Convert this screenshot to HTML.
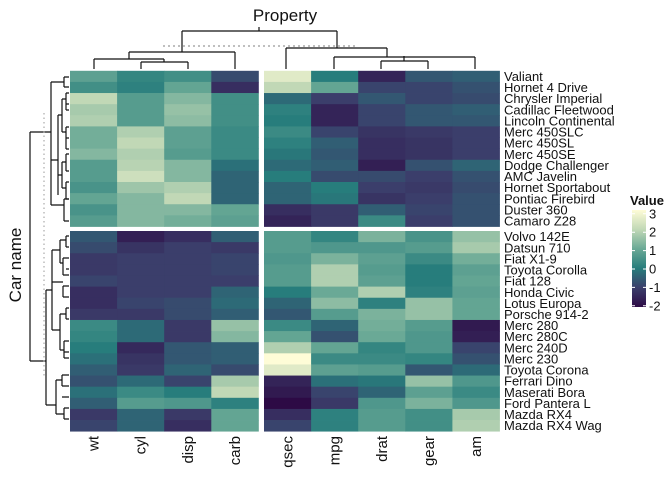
<!DOCTYPE html>
<html><head><meta charset="utf-8"><style>
html,body{margin:0;padding:0;background:#fff}
svg{display:block;font-family:"Liberation Sans",sans-serif}
</style></head><body>
<svg id="chart" width="672" height="480" viewBox="0 0 672 480" xmlns="http://www.w3.org/2000/svg">
<text x="285" y="21" font-size="17" text-anchor="middle" fill="#111">Property</text>
<text transform="translate(21,265) rotate(-90)" font-size="17" text-anchor="middle" fill="#111">Car name</text>
<g id="coldendro" stroke="#111" stroke-width="1.2" fill="none">
<path d="M259 27V31M182 31H337M182 31V52M129 52H235M129 52V59M94 59H164M94 59V69M164 59V62M141 62H188M141 62V69M188 62V69M235 52V69M337 31V48M286 48H387M286 48V69M387 48V57M334 57H475M334 57V69M475 57V69M404 57V56M381 61H428M381 61V69M428 61V69M404 56V61"/>
<path d="M163 46H356" stroke="#999" stroke-dasharray="2,3"/>
</g>
<g id="rowdendro" stroke="#111" stroke-width="1.2" fill="none">
<path d="M30 132V361M30 132H51M30 361H46"/>
<path d="M51 82V205M51 82H64M64 77V87M64 77H69M64 87H69"/>
<path d="M51 160H58M58 115V195M58 115H62M62 99V132M62 99H66M66 93V110M66 93H69M66 110H69M66 104H69M62 132H66M66 127V149M66 127H69M66 149H69M66 138H69"/>
<path d="M58 175H62M62 162V188M62 162H66M66 154V171M66 154H69M66 171H69M62 188H66M66 182V199M66 182H69M66 199H69"/>
<path d="M51 205H64M64 199V221M64 199H69M64 221H69"/>
<path d="M46 290V405M46 290H52M52 250V330M52 250H60M60 240V263M60 240H66M66 236V247M66 236H69M66 247H69M60 263H63M63 258V275M63 258H69M63 275H69M66 269H69M52 282H63M63 286V297M63 286H69M63 297H69"/>
<path d="M52 330H60M60 314V350M60 314H66M66 308V319M66 308H69M66 319H69M60 350H64M64 341V358M64 341H69M64 358H69M64 352H69"/>
<path d="M46 405H56M56 380V414M56 380H62M62 375V386M62 375H69M62 386H69M62 397H69M56 414H64M64 408V419M64 408H69M64 419H69"/>
<path d="M44 113V377" stroke="#aaa" stroke-dasharray="1.5,3"/>
</g>
<g id="cells"></g>
<g id="rowlabels"></g>
<g id="collabels"></g>
<g id="legend">
<text x="630" y="205" font-size="13" font-weight="bold" fill="#111">Value</text>
<defs><linearGradient id="lg" x1="0" y1="1" x2="0" y2="0">
<stop offset="0" stop-color="#2d0a45"/><stop offset="0.2" stop-color="#3b3e6b"/><stop offset="0.4" stop-color="#277d7c"/><stop offset="0.6" stop-color="#6aa996"/><stop offset="0.8" stop-color="#c1d8b6"/><stop offset="1" stop-color="#fefcd7"/></linearGradient></defs>
<rect x="632" y="210" width="14" height="97" fill="url(#lg)"/>
<g id="legticks"></g>
</g>
</svg>
<script>
const cols = ["wt","cyl","disp","carb","qsec","mpg","drat","gear","am"];
const rows = ["Valiant","Hornet 4 Drive","Chrysler Imperial","Cadillac Fleetwood","Lincoln Continental","Merc 450SLC","Merc 450SL","Merc 450SE","Dodge Challenger","AMC Javelin","Hornet Sportabout","Pontiac Firebird","Duster 360","Camaro Z28","Volvo 142E","Datsun 710","Fiat X1-9","Toyota Corolla","Fiat 128","Honda Civic","Lotus Europa","Porsche 914-2","Merc 280","Merc 280C","Merc 240D","Merc 230","Toyota Corona","Ferrari Dino","Maserati Bora","Ford Pantera L","Mazda RX4","Mazda RX4 Wag"];
const values = [
[0.8,0.2,0.4,-0.8,2.5,0.0,-1.5,-0.6,-0.5],
[0.4,0.1,0.9,-1.3,2.0,0.9,-0.9,-0.9,-0.7],
[2.0,0.7,1.3,0.4,-0.3,-1.0,-0.6,-0.9,-0.8],
[1.7,0.7,1.5,0.4,0.1,-1.5,-0.9,-0.6,-0.5],
[1.8,0.7,1.4,0.4,0.0,-1.5,-0.9,-0.6,-0.6],
[1.1,1.8,0.8,0.3,0.3,-0.9,-1.2,-1.1,-1.0],
[1.1,2.0,0.8,0.3,0.1,-0.5,-1.3,-1.2,-1.0],
[1.3,1.8,0.7,0.3,-0.1,-0.6,-1.3,-1.2,-1.0],
[0.7,1.9,1.3,-0.2,-0.3,-0.5,-1.6,-0.7,-0.4],
[0.7,2.2,1.3,-0.4,0.0,-0.8,-0.8,-1.0,-0.7],
[0.5,1.6,1.8,-0.4,-0.4,0.0,-1.0,-1.1,-0.8],
[0.9,1.3,2.0,-0.4,-0.4,-0.1,-1.2,-1.0,-0.7],
[0.5,1.3,1.3,0.9,-1.3,-1.1,-0.5,-0.9,-0.7],
[0.7,1.3,1.1,0.8,-1.5,-1.1,0.3,-1.0,-0.7],
[-0.6,-1.6,-1.3,-0.5,0.7,0.2,1.2,0.5,1.5],
[-0.8,-1.2,-1.0,-1.1,0.7,0.6,0.6,0.7,1.7],
[-1.1,-1.0,-1.0,-0.9,0.6,1.2,0.8,0.3,1.1],
[-1.1,-1.0,-1.0,-0.9,0.7,1.8,0.7,0.0,0.8],
[-0.9,-1.0,-1.0,-1.0,0.7,1.8,0.8,0.0,0.9],
[-1.3,-1.0,-1.0,-0.4,0.0,1.0,1.8,0.1,0.8],
[-1.3,-0.9,-0.8,-0.3,-0.4,1.4,0.1,1.5,0.9],
[-1.1,-1.1,-0.8,-0.5,-0.6,0.7,1.2,1.5,0.9],
[0.3,-0.3,-1.1,1.5,0.3,-0.4,1.1,0.7,-1.7],
[0.2,-0.3,-1.1,1.3,0.9,-0.7,1.0,0.6,-1.6],
[0.0,-1.4,-0.6,-0.5,1.8,0.9,0.2,0.6,-0.9],
[-0.2,-1.2,-0.6,-0.5,3.0,0.3,0.3,0.2,-0.7],
[-0.5,-1.1,-0.4,-0.8,2.5,0.8,0.7,-0.6,-0.3],
[-0.7,-0.3,-0.9,1.7,-1.5,-0.2,-0.1,1.5,0.6],
[-0.2,0.3,0.0,2.0,-1.7,-0.9,-0.4,0.8,0.3],
[-0.5,0.7,0.6,0.1,-2.1,-1.1,0.6,1.2,0.6],
[-1.1,-0.4,-1.1,0.9,-1.3,0.1,0.7,0.4,1.7],
[-0.9,-0.4,-1.3,0.9,-0.9,0.1,0.7,0.4,1.8]];
const legendTicks = [3,2,1,0,-1,-2];

const NS="http://www.w3.org/2000/svg";
const stops=[[-2,[45,10,69]],[-1,[59,62,107]],[0,[39,125,124]],[1,[106,169,150]],[2,[193,216,182]],[3,[254,252,215]]];
function color(v){
  if(v<=stops[0][0]) return "rgb("+stops[0][1].join(",")+")";
  for(let i=0;i<stops.length-1;i++){const a=stops[i],b=stops[i+1];
    if(v<=b[0]){const t=(v-a[0])/(b[0]-a[0]);return "rgb("+a[1].map((c,k)=>Math.round(c+(b[1][k]-c)*t)).join(",")+")";}}
  return "rgb("+stops[stops.length-1][1].join(",")+")";
}
const cw=47.1, rh=11.12;
function xCol(j){return j<4 ? 70+j*cw : 264+(j-4)*cw;}
function yRow(i){return i<14 ? 70.8+i*rh : 231+(i-14)*rh;}
function yLeg(v){return 269-v*18.4;}
const cells=document.getElementById("cells");
values.forEach((r,i)=>r.forEach((v,j)=>{
  const e=document.createElementNS(NS,"rect");
  
  
  e.setAttribute("x",xCol(j));e.setAttribute("y",yRow(i));
  e.setAttribute("width",cw+0.4);e.setAttribute("height",rh+0.4);
  e.setAttribute("fill",color(v));cells.appendChild(e);
}));
const rl=document.getElementById("rowlabels");
rows.forEach((n,i)=>{
  const t=document.createElementNS(NS,"text");
  
  
  t.setAttribute("x",504);t.setAttribute("y",yRow(i)+rh/2+4.6);
  t.setAttribute("font-size","13");t.setAttribute("fill","#111");
  t.textContent=n;rl.appendChild(t);
});
const cl=document.getElementById("collabels");
cols.forEach((n,j)=>{
  const t=document.createElementNS(NS,"text");
  
  
  const cx=xCol(j)+cw/2+5;
  t.setAttribute("transform","translate("+cx+",436) rotate(-90)");
  t.setAttribute("text-anchor","end");t.setAttribute("font-size","15");t.setAttribute("fill","#111");
  t.textContent=n;cl.appendChild(t);
});
const lt=document.getElementById("legticks");
legendTicks.forEach(v=>{
  const l=document.createElementNS(NS,"line");
  
  
  l.setAttribute("x1",632);l.setAttribute("x2",646);l.setAttribute("y1",yLeg(v));l.setAttribute("y2",yLeg(v));
  l.setAttribute("stroke","#fff");l.setAttribute("stroke-dasharray","3,8");lt.appendChild(l);
  const t=document.createElementNS(NS,"text");
  
  
  t.setAttribute("x",649);t.setAttribute("y",yLeg(v)+4.5);t.setAttribute("font-size","13");t.setAttribute("fill","#111");
  t.textContent=String(v);lt.appendChild(t);
});
</script>
</body></html>
